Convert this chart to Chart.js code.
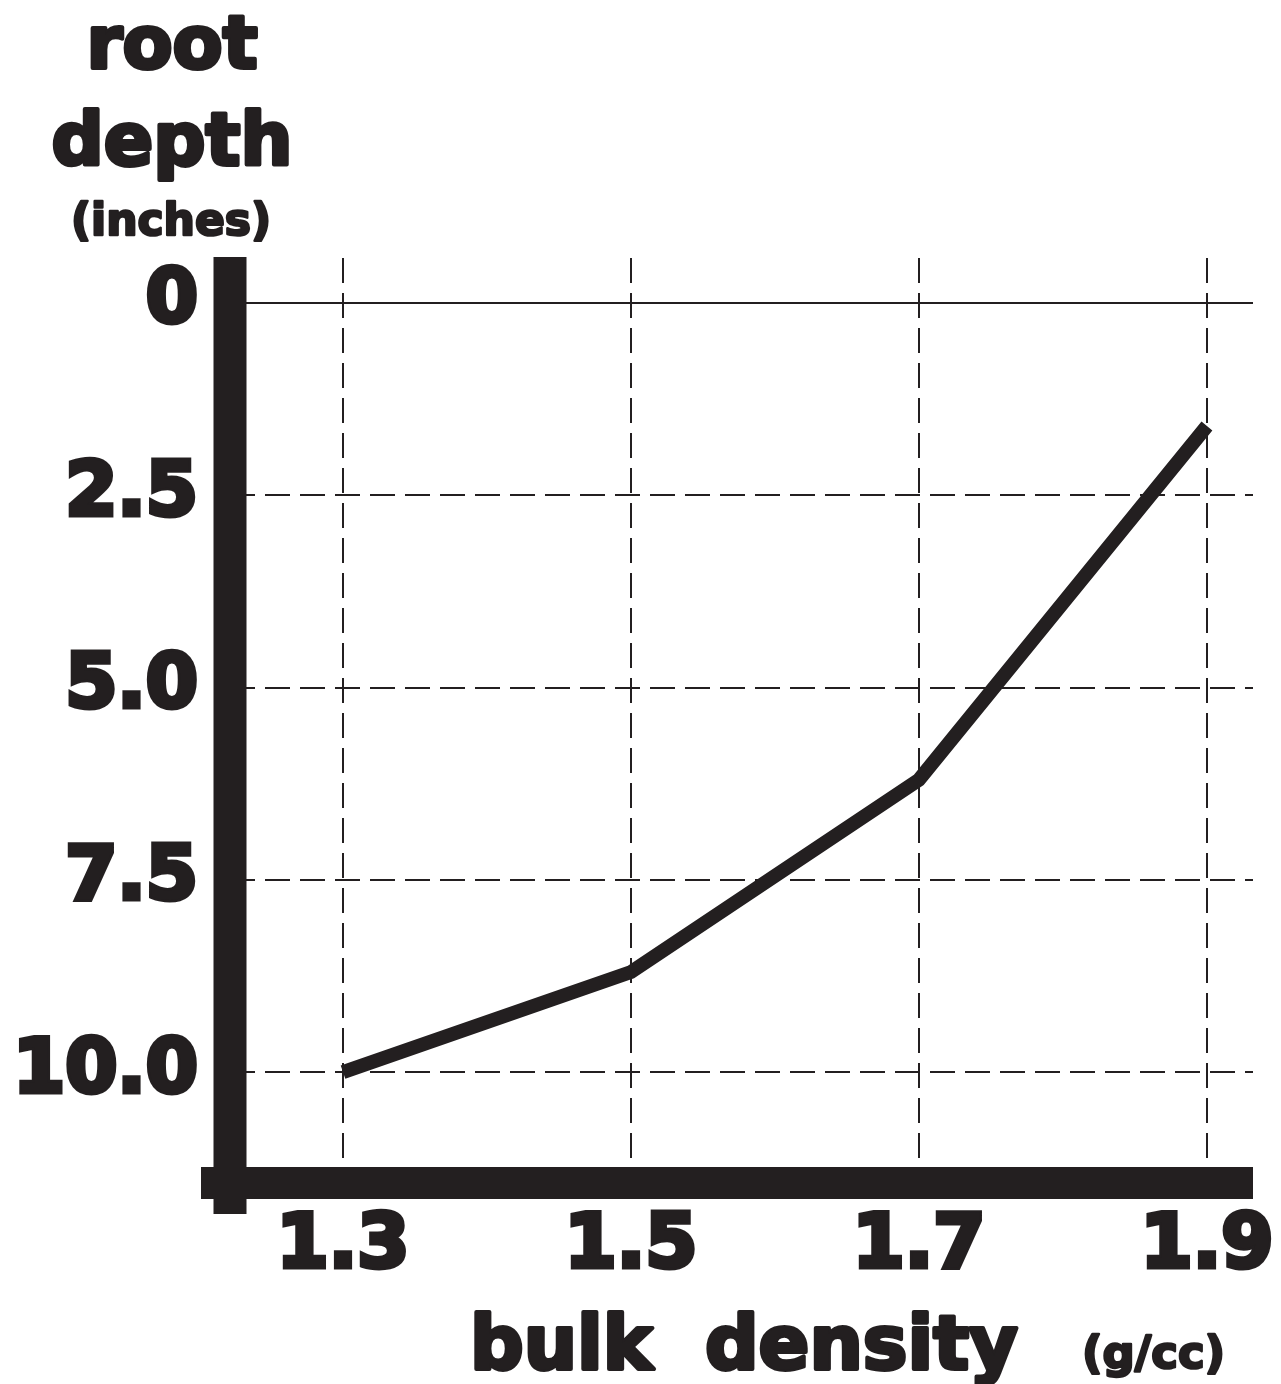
<!DOCTYPE html>
<html>
<head>
<meta charset="utf-8">
<title>root depth vs bulk density</title>
<script src="https://cdn.jsdelivr.net/npm/chart.js@4/dist/chart.umd.min.js"></script>
<style>
  html, body { margin: 0; padding: 0; background: #fff; }
  canvas { display: block; }
</style>
</head>
<body>
<canvas id="root-chart" width="1281" height="1384"></canvas>
<script>
// bulk density (g/cc) and the root depth (inches) reached at each
const bulkDensity = [1.3, 1.5, 1.7, 1.9];
const rootDepth = [10.0, 8.7, 6.2, 1.6];

const xTicks = [1.3, 1.5, 1.7, 1.9];
const xTickLabels = ['1.3', '1.5', '1.7', '1.9'];
const yTicks = [0, 2.5, 5, 7.5, 10];
const yTickLabels = ['0', '2.5', '5.0', '7.5', '10.0'];

const yTitle = ['root', 'depth', '(inches)'];
const xTitle = 'bulk  density';
const xUnit = '(g/cc)';

const ink = '#231f20';
const face = '"DejaVu Sans", sans-serif';

function boldText(ctx, text, x, y, size, stroke) {
    ctx.font = 'bold ' + size + 'px ' + face;
    ctx.lineJoin = 'round';
    ctx.lineWidth = stroke;
    ctx.strokeStyle = ink;
    ctx.fillStyle = ink;
    ctx.strokeText(text, x, y);
    ctx.fillText(text, x, y);
}

// heavy axis bars, crossing at the corner
const axisBars = {
    id: 'axisBars',
    afterDraw(chart) {
        const { ctx, chartArea: a } = chart;
        ctx.save();
        ctx.fillStyle = ink;
        ctx.fillRect(a.left - 16.5, a.top - 1, 33, a.bottom - a.top + 32);
        ctx.fillRect(a.left - 29, a.bottom - 16, a.right - a.left + 29, 32);
        ctx.restore();
    }
};

const axisTitles = {
    id: 'axisTitles',
    afterDraw(chart) {
        const ctx = chart.ctx;
        ctx.save();
        ctx.textBaseline = 'alphabetic';
        ctx.textAlign = 'center';
        boldText(ctx, yTitle[0], 172, 68, 73, 4);
        boldText(ctx, yTitle[1], 172, 165, 73, 4);
        boldText(ctx, yTitle[2], 171, 235, 44, 2.5);
        ctx.textAlign = 'left';
        boldText(ctx, xTitle, 470, 1369, 75, 4);
        boldText(ctx, xUnit, 1082, 1368, 45, 2.5);
        ctx.restore();
    }
};

// keep the label overhang from shrinking the plot area
function noLabelPadding(s) {
    s.paddingLeft = 0;
    s.paddingRight = 0;
    s.paddingTop = 0;
    s.paddingBottom = 0;
}

new Chart(document.getElementById('root-chart'), {
    type: 'line',
    data: {
        datasets: [{
            data: bulkDensity.map((x, i) => ({ x: x, y: rootDepth[i] })),
            borderColor: ink,
            borderWidth: 14,
            borderCapStyle: 'butt',
            borderJoinStyle: 'miter',
            pointRadius: 0,
            tension: 0,
            fill: false
        }]
    },
    options: {
        responsive: false,
        animation: false,
        layout: { padding: { top: 258, right: 28, left: 0, bottom: 0 } },
        plugins: {
            legend: { display: false },
            tooltip: { enabled: false }
        },
        scales: {
            x: {
                type: 'linear',
                min: 1.2215,
                max: 1.932,
                afterBuildTicks: s => { s.ticks = xTicks.map(v => ({ value: v })); },
                afterFit: s => { s.height = 201; noLabelPadding(s); },
                ticks: {
                    callback: (v, i) => xTickLabels[i],
                    color: ink,
                    font: { family: face, weight: 'bold', size: 75 },
                    textStrokeColor: ink,
                    textStrokeWidth: 5,
                    padding: 20,
                    maxRotation: 0,
                    autoSkip: false
                },
                grid: { color: ink, lineWidth: 2, drawTicks: false },
                border: { display: false, dash: [25, 10] }
            },
            y: {
                type: 'linear',
                reverse: true,
                min: -0.585,
                max: 11.443,
                afterBuildTicks: s => { s.ticks = yTicks.map(v => ({ value: v })); },
                afterFit: s => { s.width = 230; noLabelPadding(s); },
                ticks: {
                    callback: (v, i) => yTickLabels[i],
                    color: ink,
                    font: { family: face, weight: 'bold', size: 75 },
                    textStrokeColor: ink,
                    textStrokeWidth: 5,
                    padding: 32,
                    autoSkip: false
                },
                grid: { color: ink, lineWidth: 2, drawTicks: false },
                border: {
                    display: false,
                    dash: c => (c.tick && c.tick.value === 0 ? [] : [25, 10])
                }
            }
        }
    },
    plugins: [axisBars, axisTitles]
});
</script>
</body>
</html>
